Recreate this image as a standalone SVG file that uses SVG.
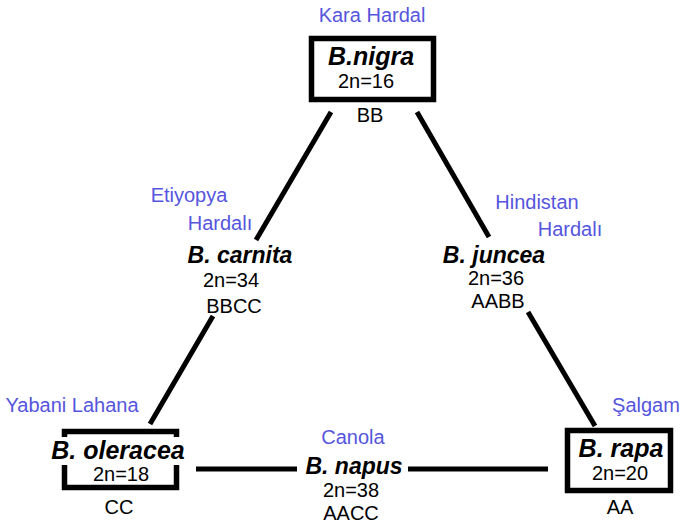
<svg xmlns="http://www.w3.org/2000/svg" width="683" height="527" viewBox="0 0 683 527">
<style>
text{font-family:"Liberation Sans",Arial,sans-serif;text-anchor:middle;fill:#000}
.sp{font-size:25px;font-weight:bold;font-style:italic}
.sm{font-size:23px}
.n{font-size:20px}
.lb{font-size:20px;fill:#5555dd}
.box{fill:#fff;stroke:#000;stroke-width:5.5}
.con line{stroke:#000;stroke-width:5}
</style>
<rect width="683" height="527" fill="#fff"/>
<g id="connectors" class="con">
<line x1="331" y1="112" x2="256" y2="240"/>
<line x1="213" y1="316" x2="150" y2="424"/>
<line x1="417" y1="112" x2="489" y2="237"/>
<line x1="528" y1="312" x2="595" y2="426"/>
<line x1="196" y1="469" x2="297" y2="469"/>
<line x1="408" y1="469" x2="548" y2="469"/>
</g>
<g id="nigra">
<text class="lb" x="372" y="22">Kara Hardal</text>
<rect class="box" x="311.5" y="38.5" width="122" height="61"/>
<text class="sp" x="371" y="65">B.nigra</text>
<text class="n" x="366" y="88">2n=16</text>
<text class="n" x="370" y="122">BB</text>
</g>
<g id="oleracea">
<text class="lb" x="72" y="412">Yabani Lahana</text>
<rect class="box" x="64.5" y="431.5" width="112" height="56"/>
<rect x="50" y="437" width="138" height="28" fill="#fff"/>
<text class="sp" x="118" y="459">B. oleracea</text>
<text class="n" x="121" y="481">2n=18</text>
<text class="n" x="119" y="514">CC</text>
</g>
<g id="rapa">
<text class="lb" x="646" y="412">Şalgam</text>
<rect class="box" x="567.5" y="430.5" width="103" height="60"/>
<text class="sp" x="621" y="457">B. rapa</text>
<text class="n" x="620" y="480">2n=20</text>
<text class="n" x="620" y="514">AA</text>
</g>
<g id="napus">
<text class="lb" x="353" y="444">Canola</text>
<text class="sp sm" x="354" y="474">B. napus</text>
<text class="n" x="351" y="497">2n=38</text>
<text class="n" x="351" y="520">AACC</text>
</g>
<g id="carnita">
<text class="lb" x="189" y="202">Etiyopya</text>
<text class="lb" x="220" y="230">Hardalı</text>
<text class="sp sm" x="240" y="263">B. carnita</text>
<text class="n" x="231" y="287">2n=34</text>
<text class="n" x="234" y="313">BBCC</text>
</g>
<g id="juncea">
<text class="lb" x="537" y="209">Hindistan</text>
<text class="lb" x="570" y="236">Hardalı</text>
<text class="sp sm" x="494" y="263">B. juncea</text>
<text class="n" x="496" y="285">2n=36</text>
<text class="n" x="498" y="308">AABB</text>
</g>
</svg>
